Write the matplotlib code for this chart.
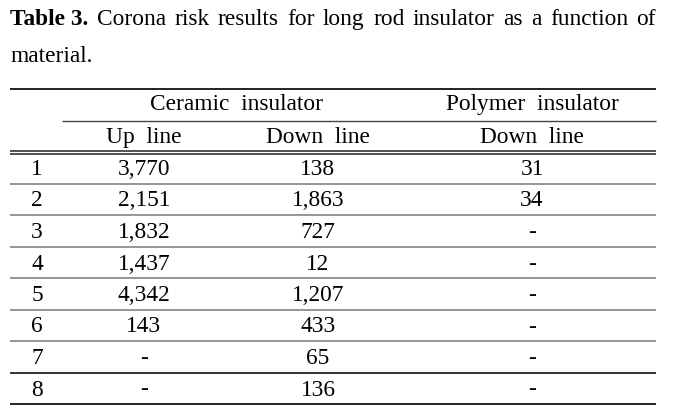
import matplotlib
matplotlib.use("Agg")
import matplotlib.pyplot as plt

# ---- data ----
title_bold = "Table 3."
title_words = ["Corona", "risk", "results", "for", "long", "rod", "insulator",
               "as", "a", "function", "of"]
title_line2 = "material."

group_labels = ["Ceramic  insulator", "Polymer  insulator"]
sub_labels = ["Up  line", "Down  line", "Down  line"]
row_labels = ["1", "2", "3", "4", "5", "6", "7", "8"]
ceramic_up = [3770, 2151, 1832, 1437, 4342, 143, None, None]
ceramic_down = [138, 1863, 727, 12, 1207, 433, 65, 136]
polymer_down = [31, 34, None, None, None, None, None, None]


def fmt(v):
    return "-" if v is None else f"{v:,}"


W, H = 676, 408
fig = plt.figure(figsize=(W / 100, H / 100), dpi=100)
ax = fig.add_axes([0, 0, 1, 1])
ax.set_xlim(0, W)
ax.set_ylim(H, 0)
ax.axis("off")

FONT = "Liberation Serif"
FS = 16.8
FST = 16.8

# ---- justified title line 1 ----
left, right = 10, 656
y1 = 25
texts = [ax.text(0, y1, title_bold, fontsize=FST, family=FONT, weight="bold",
                 va="baseline", ha="left")]
for w in title_words:
    texts.append(ax.text(0, y1, w, fontsize=FST, family=FONT,
                         va="baseline", ha="left"))
fig.canvas.draw()
r = fig.canvas.get_renderer()
inv = ax.transData.inverted()
widths = []
for t in texts:
    bb = t.get_window_extent(renderer=r)
    (x0, _), (x1, _) = inv.transform([(bb.x0, bb.y0), (bb.x1, bb.y1)])
    widths.append(abs(x1 - x0))
gap = (right - left - sum(widths)) / (len(texts) - 1)
x = left
for t, wd in zip(texts, widths):
    t.set_x(x)
    x += wd + gap

ax.text(left, 62, title_line2, fontsize=FST, family=FONT, va="baseline", ha="left")

# ---- rules ----
x_l, x_r = 10, 656
ax.plot([x_l, x_r], [89, 89], color="#111111", lw=1.3, solid_capstyle="butt")
ax.plot([62, x_r], [120.5, 120.5], color="#444444", lw=1.0, solid_capstyle="butt")
ax.plot([x_l, x_r], [150.5, 150.5], color="#333333", lw=1.2, solid_capstyle="butt")
ax.plot([x_l, x_r], [153.7, 153.7], color="#333333", lw=1.2, solid_capstyle="butt")

seps = [183.5, 215, 246.7, 278.3, 309.5, 341, 372.7]
for i, s in enumerate(seps):
    col = "#222222" if i == len(seps) - 1 else "#8c8c8c"
    ax.plot([x_l, x_r], [s, s], color=col, lw=1.3, solid_capstyle="butt")
ax.plot([x_l, x_r], [404, 404], color="#111111", lw=1.3, solid_capstyle="butt")

# ---- headers ----
col_x = [37, 144, 318, 532]
ax.text(236, 110, group_labels[0], fontsize=FS, family=FONT, ha="center", va="baseline")
ax.text(532, 110, group_labels[1], fontsize=FS, family=FONT, ha="center", va="baseline")
for cx, lab in zip(col_x[1:], sub_labels):
    ax.text(cx, 143, lab, fontsize=FS, family=FONT, ha="center", va="baseline")

# ---- body ----
bottoms = seps + [404]
for i, lab in enumerate(row_labels):
    yb = bottoms[i] - 8.5
    vals = [lab, fmt(ceramic_up[i]), fmt(ceramic_down[i]), fmt(polymer_down[i])]
    for cx, v in zip(col_x, vals):
        ax.text(cx, yb, v, fontsize=FS, family=FONT, ha="center", va="baseline")

fig.savefig("out.png", dpi=100)
